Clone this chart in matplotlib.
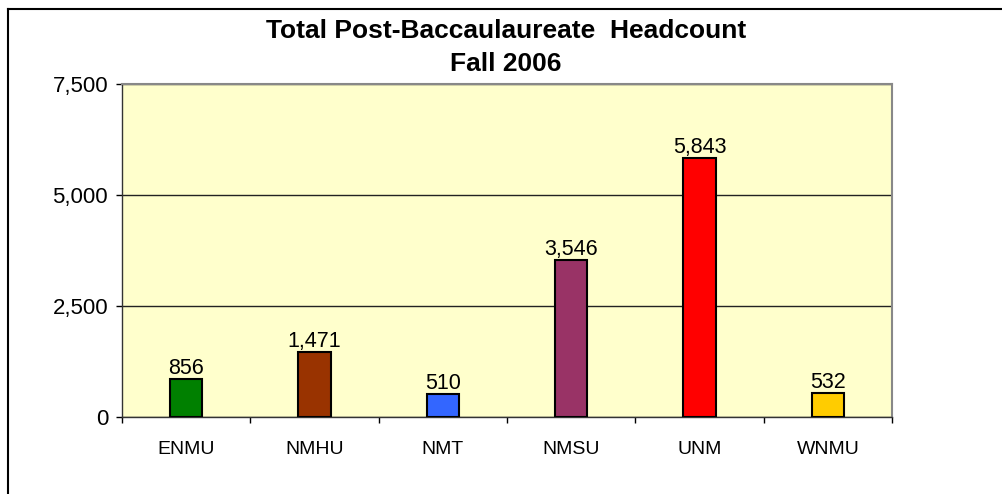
import matplotlib.pyplot as plt
from matplotlib.lines import Line2D
from matplotlib.ticker import FuncFormatter, FixedLocator

# data
schools = ["ENMU", "NMHU", "NMT", "NMSU", "UNM", "WNMU"]
headcount = [856, 1471, 510, 3546, 5843, 532]
bar_colors = ["#008000", "#993300", "#3366FF", "#993366", "#FF0000", "#FFCC00"]

plt.rcParams['font.family'] = ['Liberation Sans', 'DejaVu Sans']

fig = plt.figure(figsize=(10.03, 4.94), dpi=100)
W, H = 1003, 494
ax = fig.add_axes([122 / W, 1 - 417 / H, (892 - 122) / W, (417 - 84) / H])
ax.set_facecolor("#FFFFCC")

x = list(range(len(schools)))
ax.bar(x, headcount, width=0.25, color=bar_colors, edgecolor="black",
       linewidth=1.5, zorder=3)

for i, v in enumerate(headcount):
    ax.annotate(f"{v:,}", (i, v), xytext=(0, 0), textcoords="offset points",
                ha="center", va="bottom", fontsize=15.5)

ax.set_xlim(-0.5, len(schools) - 0.5)
ax.set_ylim(0, 7500)
ax.set_yticks([0, 2500, 5000, 7500])
ax.yaxis.set_major_formatter(FuncFormatter(lambda v, p: f"{int(v):,}"))
ax.yaxis.grid(True, color="#222222", linewidth=1, zorder=1)
ax.tick_params(axis="y", labelsize=16, length=4, width=1, pad=6)

# category labels centred, ticks at boundaries
ax.xaxis.set_major_locator(FixedLocator([i - 0.5 for i in range(len(schools) + 1)]))
ax.xaxis.set_minor_locator(FixedLocator(x))
ax.set_xticklabels([])
ax.set_xticklabels(schools, minor=True)
ax.tick_params(axis="x", which="major", length=4.5, width=1)
ax.tick_params(axis="x", which="minor", length=0, labelsize=14, pad=17)

for s in ["top", "right"]:
    ax.spines[s].set_color("#888888")
    ax.spines[s].set_linewidth(1.5)
for s in ["left", "bottom"]:
    ax.spines[s].set_color("#333333")
    ax.spines[s].set_linewidth(1)

fig.text(506 / W, 1 - 31 / H, "Total Post-Baccaulaureate  Headcount",
         ha="center", va="center", fontsize=19, fontweight="bold")
fig.text(506 / W, 1 - 64 / H, "Fall 2006",
         ha="center", va="center", fontsize=19, fontweight="bold")

# outer chart frame
fig.add_artist(Line2D([8 / W, 8 / W], [0, 1 - 9 / H], color="black", linewidth=1.5))
fig.add_artist(Line2D([8 / W, 1], [1 - 9 / H, 1 - 9 / H], color="black", linewidth=1.5))

fig.savefig("out.png", dpi=100)
